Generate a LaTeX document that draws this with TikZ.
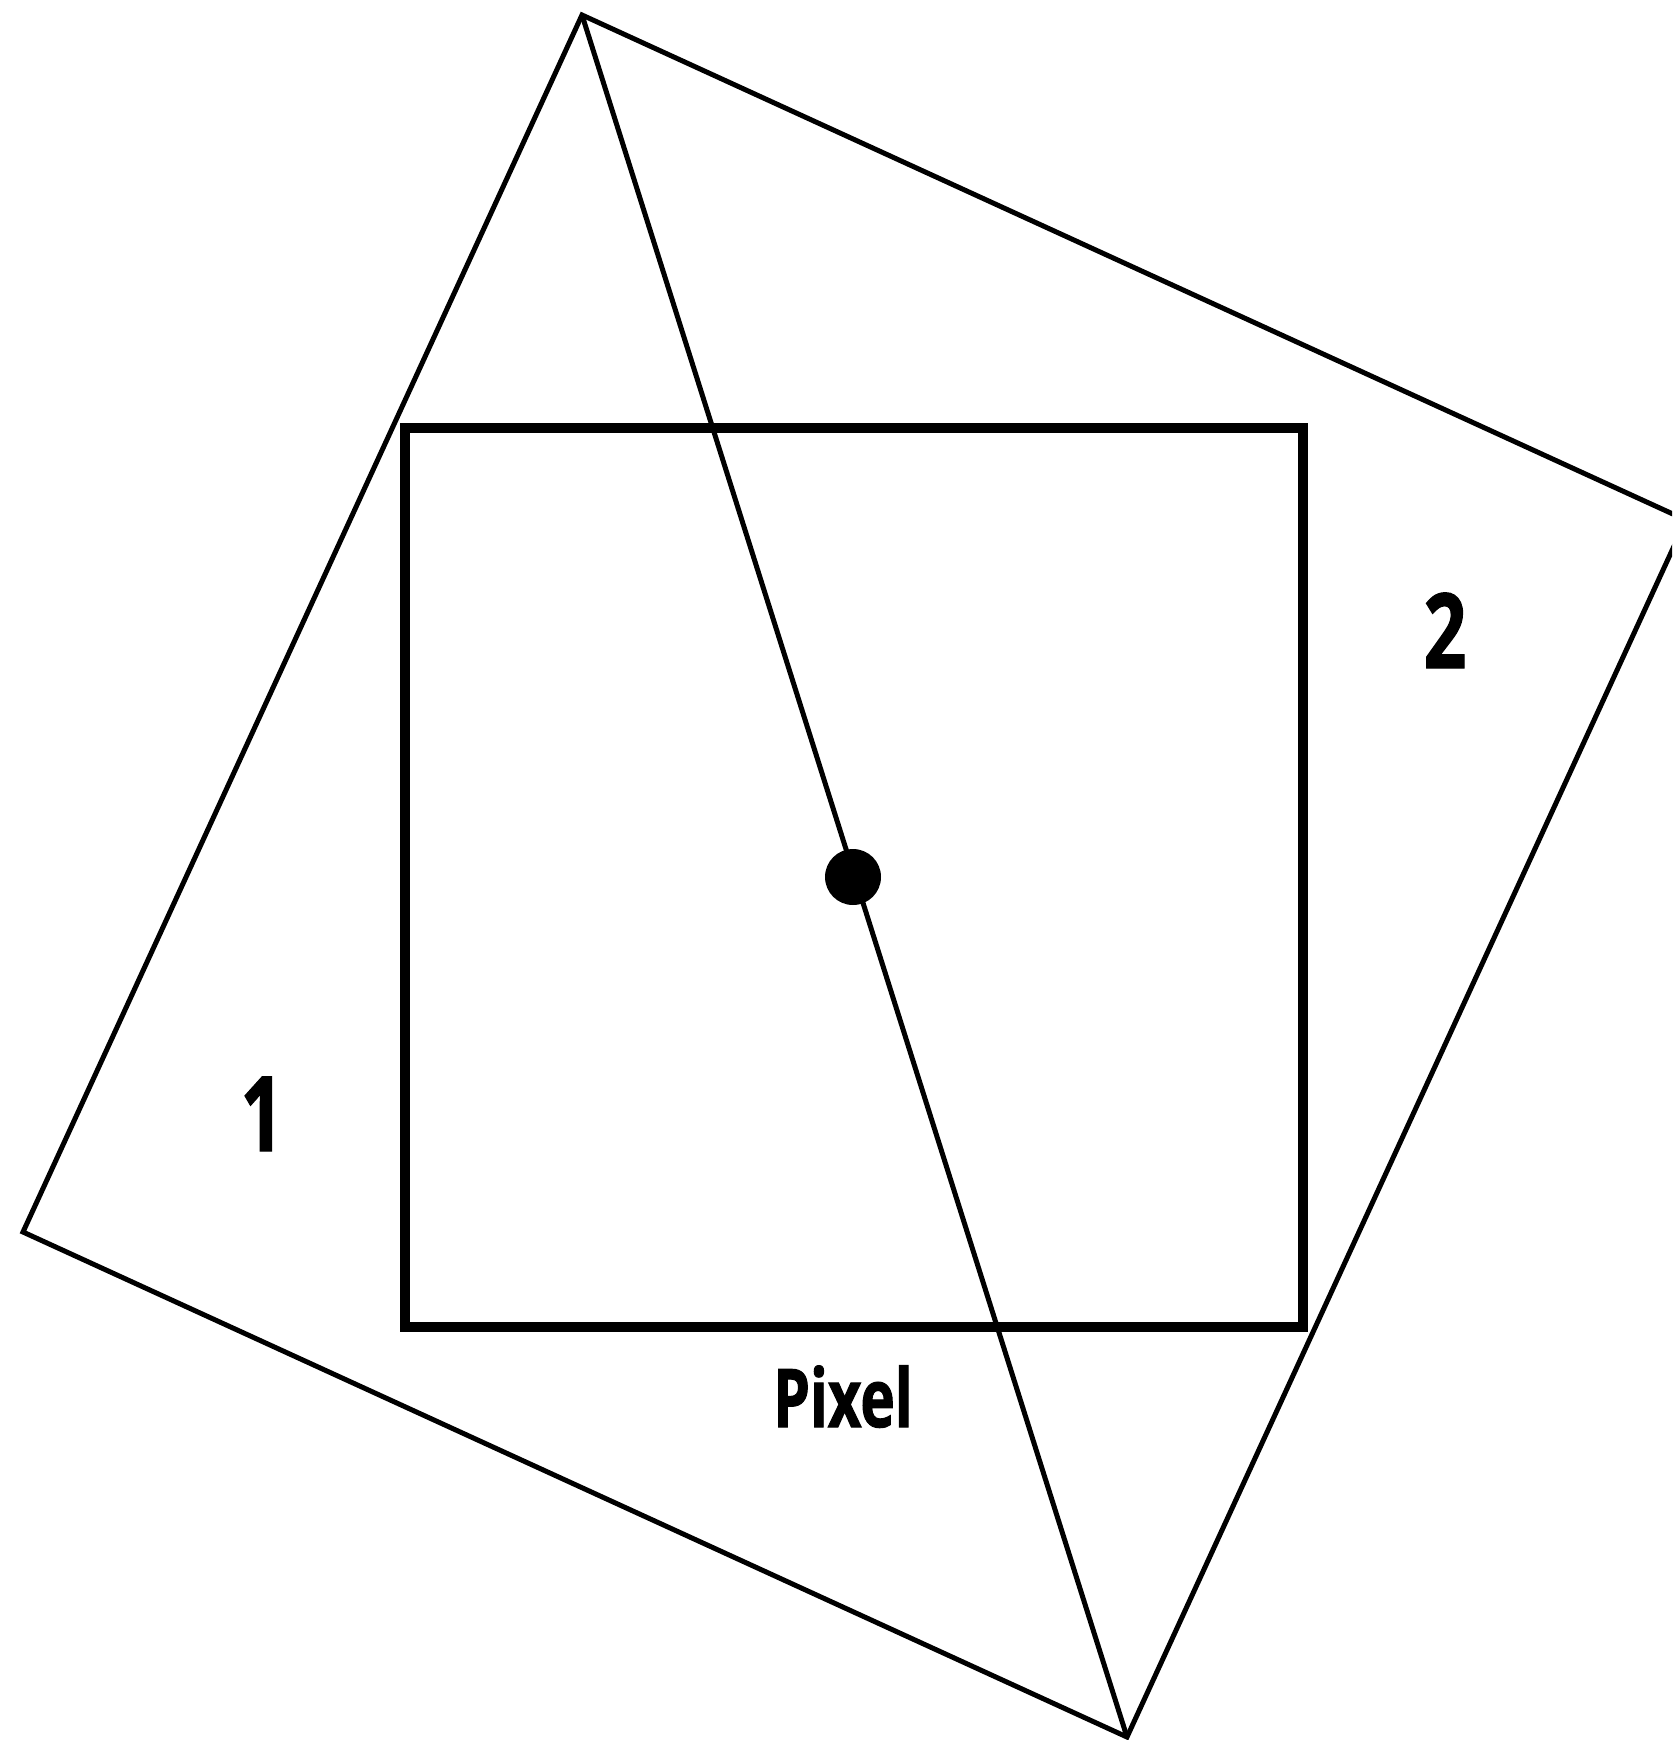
\documentclass[tikz,border=0pt]{standalone}
\usepackage{fontspec}
\newfontfamily\labelfont[FakeStretch=0.72,FakeBold=1.2]{Open Sans Bold}
\begin{document}
\begin{tikzpicture}[x=0.5pt,y={(0pt,-0.5pt)},
  thinline/.style={line width=2.5pt,line join=miter},
  pixelbox/.style={line width=5pt,line join=miter},
  lbl/.style={anchor=base,inner sep=0pt,font=\labelfont}]
\useasboundingbox (0,0) rectangle (1672,1740);
\clip (0,0) rectangle (1672,1740);
\coordinate (T) at (582,15);
\coordinate (R) at (1686,520);
\coordinate (B) at (1127,1737);
\coordinate (L) at (23,1232);
\coordinate (SQa) at (405,428);
\coordinate (SQb) at (1303,1327);
\draw[thinline] (T) -- (R) -- (B) -- (L) -- cycle;
\draw[thinline] (T) -- (B);
\draw[pixelbox] (SQa) rectangle (SQb);
\node[circle,fill=black,minimum size=28pt,inner sep=0pt] (dot) at (853,877) {};
\node[lbl,font={\labelfont\fontsize{40.5pt}{40.5pt}\selectfont}] (pixel) at (843,1427) {Pixel};
\node[lbl,font={\labelfont\fontsize{52pt}{52pt}\selectfont}] (one) at (262,1151) {1};
\node[lbl,font={\labelfont\fontsize{52pt}{52pt}\selectfont}] (two) at (1445,668) {2};
\end{tikzpicture}
\end{document}
